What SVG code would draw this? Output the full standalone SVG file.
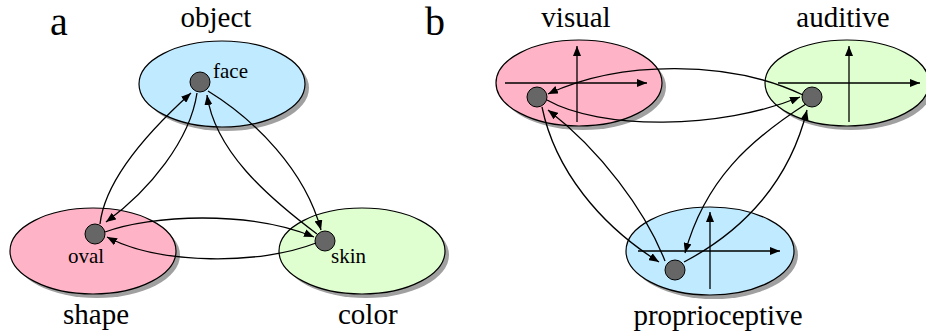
<svg xmlns="http://www.w3.org/2000/svg" width="926" height="335" viewBox="0 0 926 335">
<style>
.lbl{font-family:"Liberation Serif","Times New Roman",serif;font-size:29px;fill:#000}
.big{font-family:"Liberation Serif","Times New Roman",serif;font-size:40px;fill:#000}
.sm{font-family:"Liberation Serif","Times New Roman",serif;font-size:21px;fill:#000}
.shadow{fill:#a0a0a0}
.ell{stroke:#000;stroke-width:1.2}
.pink{fill:#ffb3c7}
.blue{fill:#bfeaff}
.green{fill:#e0ffd0}
.dot{fill:#666;stroke:#000;stroke-width:1}
.c{fill:none;stroke:#000;stroke-width:1.3}
.ax{fill:none;stroke:#000;stroke-width:1.3;marker-end:url(#ah)}
.ar{marker-end:url(#ah)}
</style>
<defs>
<marker id="ah" viewBox="0 0 10 8" refX="10" refY="4" markerWidth="10" markerHeight="8" markerUnits="userSpaceOnUse" orient="auto">
<path d="M0,0 L10,4 L0,8 z" fill="#000"/>
</marker>
</defs>
<rect width="926" height="335" fill="#fff"/>
<text class="big" x="50" y="35">a</text>
<text class="big" x="425" y="35">b</text>

<g id="object">
<ellipse class="shadow" cx="226" cy="88" rx="83" ry="43"/>
<ellipse class="ell blue" cx="222" cy="84" rx="83" ry="43"/>
<text class="lbl" x="216" y="27" text-anchor="middle">object</text>
</g>
<g id="face">
<circle class="dot" cx="200" cy="82" r="10"/>
<text class="sm" x="213" y="78">face</text>
</g>
<g id="shape">
<ellipse class="shadow" cx="97" cy="255" rx="83" ry="43"/>
<ellipse class="ell pink" cx="93" cy="251" rx="83" ry="43"/>
<text class="lbl" x="63" y="324">shape</text>
</g>
<g id="oval">
<circle class="dot" cx="95" cy="234" r="10"/>
<text class="sm" x="68" y="263">oval</text>
</g>
<g id="color">
<ellipse class="shadow" cx="366" cy="255" rx="83" ry="43"/>
<ellipse class="ell green" cx="362" cy="251" rx="83" ry="43"/>
<text class="lbl" x="338" y="324">color</text>
</g>
<g id="skin">
<circle class="dot" cx="325" cy="241" r="10"/>
<text class="sm" x="331" y="263">skin</text>
</g>

<g id="visual">
<ellipse class="shadow" cx="583" cy="87" rx="83" ry="43"/>
<ellipse class="ell pink" cx="579" cy="83" rx="83" ry="43"/>
<path class="ax" d="M505,83 L647,83"/>
<path class="ax" d="M577,122 L577,46"/>
<text class="lbl" x="576" y="27" text-anchor="middle">visual</text>
<circle class="dot" cx="537" cy="97" r="10"/>
</g>
<g id="auditive">
<ellipse class="shadow" cx="851" cy="87" rx="82" ry="43"/>
<ellipse class="ell green" cx="847" cy="83" rx="82" ry="43"/>
<path class="ax" d="M778,83 L920,83"/>
<path class="ax" d="M849,122 L849,46"/>
<text class="lbl" x="843" y="27" text-anchor="middle">auditive</text>
<circle class="dot" cx="812" cy="97" r="10"/>
</g>
<g id="proprioceptive">
<ellipse class="shadow" cx="714" cy="255" rx="84" ry="44"/>
<ellipse class="ell blue" cx="710" cy="251" rx="84" ry="44"/>
<path class="ax" d="M638,251 L780,251"/>
<path class="ax" d="M710,289 L710,212"/>
<text class="lbl" x="718" y="325" text-anchor="middle">proprioceptive</text>
<circle class="dot" cx="675" cy="270" r="10"/>
</g>

<g id="connectors">
<path class="c ar" d="M100,224 C105,180 150,130 191,93"/>
<path class="c ar" d="M197,93 C190,140 150,190 106,222"/>
<path class="c ar" d="M208,91 C255,120 305,170 321,230"/>
<path class="c ar" d="M317,234 C265,195 215,150 207,95"/>
<path class="c ar" d="M105,232 C150,215 250,210 314,237"/>
<path class="c ar" d="M316,243 C260,265 160,265 107,237"/>
<path class="c ar" d="M803,95 C730,60 620,60 548,94"/>
<path class="c ar" d="M547,100 C600,130 720,130 800,97"/>
<path class="c ar" d="M542,107 C555,170 600,225 659,262"/>
<path class="c ar" d="M665,261 C645,210 600,150 548,110"/>
<path class="c ar" d="M806,104 C750,140 705,180 685,253"/>
<path class="c ar" d="M684,262 C745,230 790,180 807,110"/>
</g>
</svg>
